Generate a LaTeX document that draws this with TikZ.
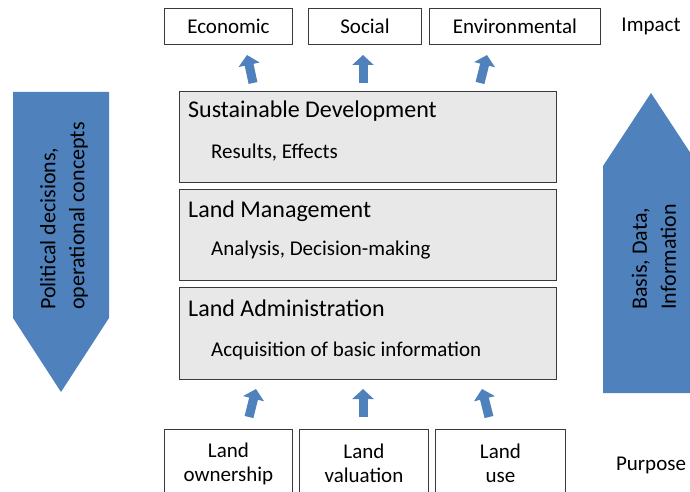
\documentclass[tikz,border=0pt]{standalone}
\usepackage{fontspec}
\setmainfont{Carlito}
\usetikzlibrary{arrows.meta}
\definecolor{arrowblue}{HTML}{4F81BD}
\definecolor{boxgray}{HTML}{E8E8E8}
\definecolor{lineclr}{HTML}{3A3A3A}
\tikzset{
  smallbox/.style={draw=lineclr, line width=0.9pt, fill=white, inner sep=0pt, font=\fontsize{21}{24}\selectfont, align=center},
  mainbox/.style={draw=lineclr, line width=0.9pt, fill=boxgray, inner sep=0pt},
  titletext/.style={anchor=west, inner sep=0pt, font=\fontsize{24}{28}\selectfont},
  subtext/.style={anchor=west, inner sep=0pt, font=\fontsize{21}{24}\selectfont},
  sidetext/.style={inner sep=0pt, font=\fontsize{21}{24}\selectfont},
  bigtext/.style={rotate=90, anchor=west, inner sep=0pt, align=left, font=\fontsize{22}{29}\selectfont},
  bluearrow/.style={draw=arrowblue, line width=9pt, -{Triangle[width=21pt,length=10pt]}, arrowblue},
}
\begin{document}
\begin{tikzpicture}[x=1pt,y=-1pt]
\useasboundingbox (0,0) rectangle (690,492);
\clip (0,0) rectangle (690,492);
% big arrows
\fill[arrowblue] (13,92) -- (109,92) -- (109,318) -- (61,392) -- (13,318) -- cycle;
\fill[arrowblue] (603,393) -- (603,166) -- (651,93) -- (699,166) -- (699,393) -- cycle;
\node[bigtext] (left) at (64,310) {Political decisions,\\operational concepts};
\node[bigtext] (right) at (654,310) {Basis, Data,\\Information};
% top boxes
\node[smallbox, minimum width=128pt, minimum height=36pt, anchor=north west] (eco) at (164,8) {Economic};
\node[smallbox, minimum width=113pt, minimum height=36pt, anchor=north west] (soc) at (308,8) {Social};
\node[smallbox, minimum width=171pt, minimum height=36pt, anchor=north west] (env) at (429,8) {Environmental};
\node[sidetext] (impact) at (651,26) {Impact};
% main boxes
\node[mainbox, minimum width=377pt, minimum height=91pt, anchor=north west] (sd) at (179,91) {};
\node[mainbox, minimum width=377pt, minimum height=91pt, anchor=north west] (lm) at (179,189) {};
\node[mainbox, minimum width=377pt, minimum height=92pt, anchor=north west] (la) at (179,287) {};
\node[titletext] (sdt) at (188,111) {Sustainable Development};
\node[subtext] (sds) at (211,153) {Results, Effects};
\node[titletext] (lmt) at (188,211) {Land Management};
\node[subtext] (lms) at (211,250) {Analysis, Decision-making};
\node[titletext] (lat) at (188,308) {Land Administration};
\node[subtext] (las) at (211,351) {Acquisition of basic information};
% bottom boxes
\node[smallbox, minimum width=128pt, minimum height=68pt, anchor=north west] (own) at (164,429) {Land\\ownership};
\node[smallbox, minimum width=129pt, minimum height=68pt, anchor=north west] (val) at (299,429) {Land\\valuation};
\node[smallbox, minimum width=130pt, minimum height=68pt, anchor=north west] (use) at (435,429) {Land\\use};
\node[sidetext] (purpose) at (651,465) {Purpose};
% small arrows
\coordinate (a1s) at (253,83); \coordinate (a1e) at (247,55);
\coordinate (a2s) at (363,83); \coordinate (a2e) at (363,55);
\coordinate (a3s) at (480,83); \coordinate (a3e) at (487,55);
\coordinate (b1s) at (249,417); \coordinate (b1e) at (256,389);
\coordinate (b2s) at (363,417); \coordinate (b2e) at (363,389);
\coordinate (b3s) at (489,417); \coordinate (b3e) at (482,389);
\draw[bluearrow] (a1s) -- (a1e);
\draw[bluearrow] (a2s) -- (a2e);
\draw[bluearrow] (a3s) -- (a3e);
\draw[bluearrow] (b1s) -- (b1e);
\draw[bluearrow] (b2s) -- (b2e);
\draw[bluearrow] (b3s) -- (b3e);
\end{tikzpicture}
\end{document}
